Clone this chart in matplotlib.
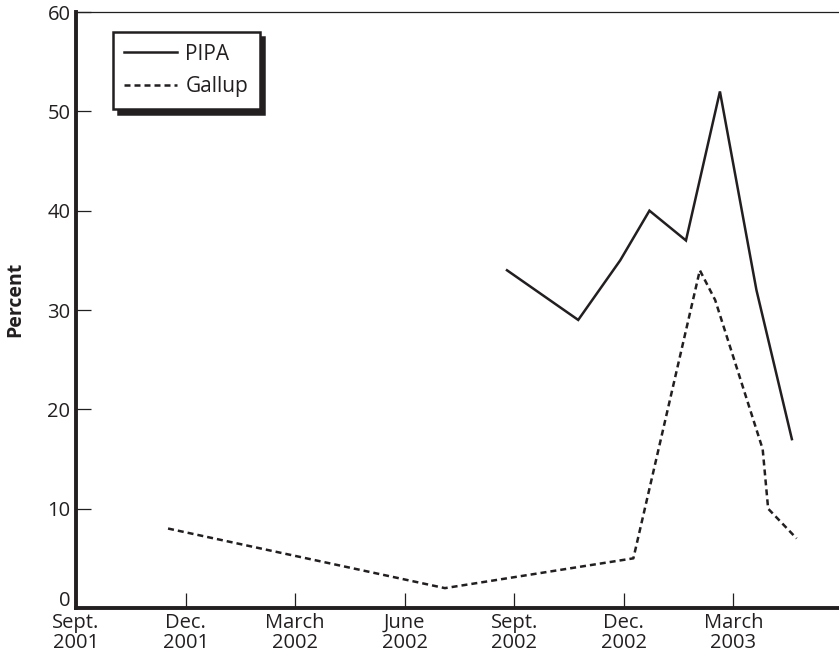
import matplotlib
matplotlib.use("Agg")
import matplotlib.pyplot as plt
import matplotlib.transforms as mtransforms

# months since Sept. 2001
pipa_x = [11.8, 13.75, 14.9, 15.7, 16.7, 17.63, 18.63, 19.6]
pipa_y = [34, 29, 35, 40, 37, 52, 32, 17]

gallup_x = [2.52, 10.1, 15.26, 17.08, 17.5, 18.8, 18.95, 19.73]
gallup_y = [8, 2, 5, 34, 31, 16, 10, 7]

tick_months = [0, 3, 6, 9, 12, 15, 18]
tick_labels = ["Sept.\n2001", "Dec.\n2001", "March\n2002", "June\n2002",
               "Sept.\n2002", "Dec.\n2002", "March\n2003"]
y_ticks = [0, 10, 20, 30, 40, 50, 60]

ink = "#231f20"
plt.rcParams['font.family'] = ['Open Sans', 'DejaVu Sans']

W, H = 839, 657
fig = plt.figure(figsize=(W / 100, H / 100), dpi=100)
left, right, bottom, top = 76, 839, 608, 12
ax = fig.add_axes([left / W, (H - bottom) / H, (right - left) / W, (bottom - top) / H])

ax.plot(pipa_x, pipa_y, color=ink, lw=1.8, solid_joinstyle='miter', label="PIPA")
ax.plot(gallup_x, gallup_y, color=ink, lw=1.8, dashes=(2.4, 1.6), label="Gallup")

ax.set_xlim(0, 20.89)
ax.set_ylim(0, 60)
ax.set_xticks(tick_months)
ax.set_xticklabels(tick_labels, fontsize=14.5, color=ink, linespacing=1.0)
ax.set_yticks(y_ticks)
ax.set_yticklabels([str(v) for v in y_ticks], fontsize=14.5, color=ink)
ax.tick_params(axis='both', direction='in', length=11, width=0.9, color=ink)
ax.tick_params(axis='x', pad=3.5)
ax.tick_params(axis='y', pad=4)

# nudge the "0" label up, as in the reference
lbl0 = ax.get_yticklabels()[0]
lbl0.set_transform(lbl0.get_transform() + mtransforms.ScaledTranslation(0, 7 / 72, fig.dpi_scale_trans))

ax.spines['right'].set_visible(False)
ax.spines['top'].set_linewidth(0.9)
ax.spines['top'].set_color(ink)
for s in ('left', 'bottom'):
    ax.spines[s].set_linewidth(2.8)
    ax.spines[s].set_color(ink)

ax.set_ylabel("Percent", fontsize=14, fontweight='bold', color=ink)
ax.yaxis.set_label_coords(-51 / 763, 0.517)

leg = ax.legend(loc='upper left', bbox_to_anchor=(0.0485, 0.966), borderaxespad=0,
                fancybox=False, edgecolor=ink, framealpha=1, fontsize=15,
                handlelength=2.5, handletextpad=0.42, borderpad=0.55, labelspacing=0.55,
                shadow={'ox': 3.5, 'oy': -3.5, 'facecolor': ink, 'edgecolor': ink, 'alpha': 1})
leg.get_frame().set_linewidth(1.8)
for t in leg.get_texts():
    t.set_color(ink)

fig.savefig("out.png", dpi=100)
